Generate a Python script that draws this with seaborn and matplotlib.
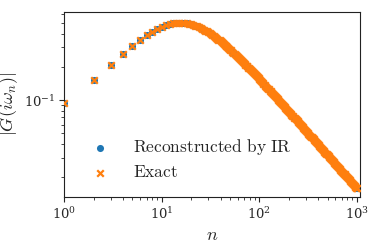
import matplotlib
matplotlib.use('Agg')
import matplotlib.pyplot as plt
import seaborn as sns

n_vals = [1, 2, 3, 4, 5, 6, 7, 8, 9, 10, 11, 12, 13, 14, 15, 16, 17, 18, 19, 20,
          21, 22, 23, 24, 25, 26, 27, 28, 29, 30, 32, 34, 36, 38, 40, 42, 44, 46, 48, 50,
          53, 56, 59, 62, 65, 68, 71, 74, 77, 80, 84, 88, 92, 96, 100, 104, 108, 113,
          118, 123, 128, 133, 139, 145, 151, 157, 164, 171, 178, 185, 193, 201, 209,
          218, 227, 236, 246, 256, 266, 277, 288, 300, 312, 325, 338, 352, 366, 381,
          396, 412, 429, 446, 464, 483, 502, 522, 543, 565, 588, 612, 637, 663, 690,
          718, 747, 777, 808, 840, 874, 909, 945, 983, 1000]

g_vals = [0.09342, 0.1533, 0.2098, 0.2618, 0.3087, 0.3500, 0.3856, 0.4156, 0.4401, 0.4597,
          0.4747, 0.4858, 0.4933, 0.4978, 0.4998, 0.4997, 0.4978, 0.4944, 0.4899, 0.4844,
          0.4782, 0.4715, 0.4643, 0.4568, 0.4492, 0.4414, 0.4335, 0.4257, 0.4179, 0.4101,
          0.3950, 0.3804, 0.3664, 0.3531, 0.3404, 0.3284, 0.3171, 0.3064, 0.2963, 0.2867,
          0.2733, 0.2610, 0.2496, 0.2391, 0.2294, 0.2204, 0.2121, 0.2043, 0.1971, 0.1903,
          0.1819, 0.1742, 0.1671, 0.1606, 0.1545, 0.1489, 0.1436, 0.1375, 0.1319, 0.1268,
          0.1220, 0.1176, 0.1126, 0.1081, 0.1039, 0.1000, 0.09585, 0.09201, 0.08846, 0.08517,
          0.08170, 0.07850, 0.07553, 0.07246, 0.06962, 0.06699, 0.06430, 0.06181, 0.05951,
          0.05717, 0.05500, 0.05282, 0.05080, 0.04878, 0.04691, 0.04506, 0.04334, 0.04165,
          0.04008, 0.03853, 0.03701, 0.03560, 0.03422, 0.03288, 0.03164, 0.03043, 0.02926,
          0.02812, 0.02702, 0.02597, 0.02495, 0.02397, 0.02304, 0.02214, 0.02128, 0.02046,
          0.01968, 0.01893, 0.01819, 0.01749, 0.01683, 0.01618, 0.01590]

# extra samples in the dense tail so the band reads as continuous
n_tail = [31, 33, 35, 37, 39, 41, 43, 45, 47, 49, 51, 54, 57, 60, 63, 66, 69, 72, 75, 78,
          82, 86, 90, 94, 98, 102, 106, 110, 115, 120, 125, 130, 136, 142, 148, 154, 160,
          167, 174, 181, 189, 197, 205, 213, 222, 231, 241, 251, 261, 271, 282, 294, 306,
          318, 331, 345, 359, 373, 388, 404, 420, 437, 455, 473, 492, 512, 532, 554, 576,
          600, 624, 650, 676, 704, 732, 762, 792, 824, 857, 891, 927, 964, 991]

g_tail = [0.4025, 0.3876, 0.3733, 0.3596, 0.3466, 0.3343, 0.3227, 0.3117, 0.3012, 0.2914,
          0.2821, 0.2691, 0.2571, 0.2460, 0.2358, 0.2264, 0.2176, 0.2094, 0.2018, 0.1947,
          0.1860, 0.1780, 0.1706, 0.1638, 0.1575, 0.1516, 0.1462, 0.1411, 0.1352, 0.1298,
          0.1248, 0.1202, 0.1150, 0.1103, 0.1060, 0.1019, 0.09820, 0.09417, 0.09045, 0.08702,
          0.08340, 0.08006, 0.07699, 0.07413, 0.07117, 0.06843, 0.06562, 0.06303, 0.06064,
          0.05842, 0.05616, 0.05389, 0.05179, 0.04985, 0.04790, 0.04597, 0.04418, 0.04253,
          0.04090, 0.03929, 0.03779, 0.03633, 0.03490, 0.03357, 0.03228, 0.03102, 0.02986,
          0.02868, 0.02759, 0.02649, 0.02547, 0.02445, 0.02351, 0.02258, 0.02172, 0.02086,
          0.02007, 0.01930, 0.01855, 0.01785, 0.01715, 0.01650, 0.01605]

n_all = n_vals + n_tail
g_exact = g_vals + g_tail
# the IR reconstruction is indistinguishable from the exact curve at this scale
g_ir = list(g_exact)

sns.set_style('ticks')
plt.rcParams['font.family'] = ['DejaVu Serif']
plt.rcParams['mathtext.fontset'] = 'cm'
plt.rcParams['xtick.labelsize'] = 9.5
plt.rcParams['ytick.labelsize'] = 9.5
plt.rcParams['xtick.major.size'] = 3.5
plt.rcParams['ytick.major.size'] = 3.5
plt.rcParams['xtick.minor.size'] = 2
plt.rcParams['ytick.minor.size'] = 2
plt.rcParams['ytick.major.pad'] = 3

fig = plt.figure(figsize=(3.74, 2.49), dpi=100)
ax = fig.add_axes([0.172, 0.21, 0.79, 0.743])

sns.scatterplot(x=n_all, y=g_ir, ax=ax, color='#1f77b4', marker='o', s=26,
                linewidth=0, label=r'$\mathrm{Reconstructed\ by\ IR}$', zorder=2)
sns.scatterplot(x=n_all, y=g_exact, ax=ax, color='#ff7f0e', marker='x', s=22,
                linewidth=1.6, label=r'$\mathrm{Exact}$', zorder=3)

ax.set_xscale('log')
ax.set_yscale('log')
ax.set_xlim(1, 1070)
ax.set_ylim(0.0134, 0.63)

ax.set_xlabel(r'$n$', fontsize=13, labelpad=3)
ax.set_ylabel(r'$|G(i\omega_n)|$', fontsize=13, labelpad=3)

for sp in ax.spines.values():
    sp.set_visible(True)
    sp.set_color('#222222')
    sp.set_linewidth(0.8)

ax.legend(loc='lower left', bbox_to_anchor=(0.01, 0.0), frameon=False,
          fontsize=12.5, handletextpad=0.9, labelspacing=0.4)

fig.savefig('out.png', dpi=100)
